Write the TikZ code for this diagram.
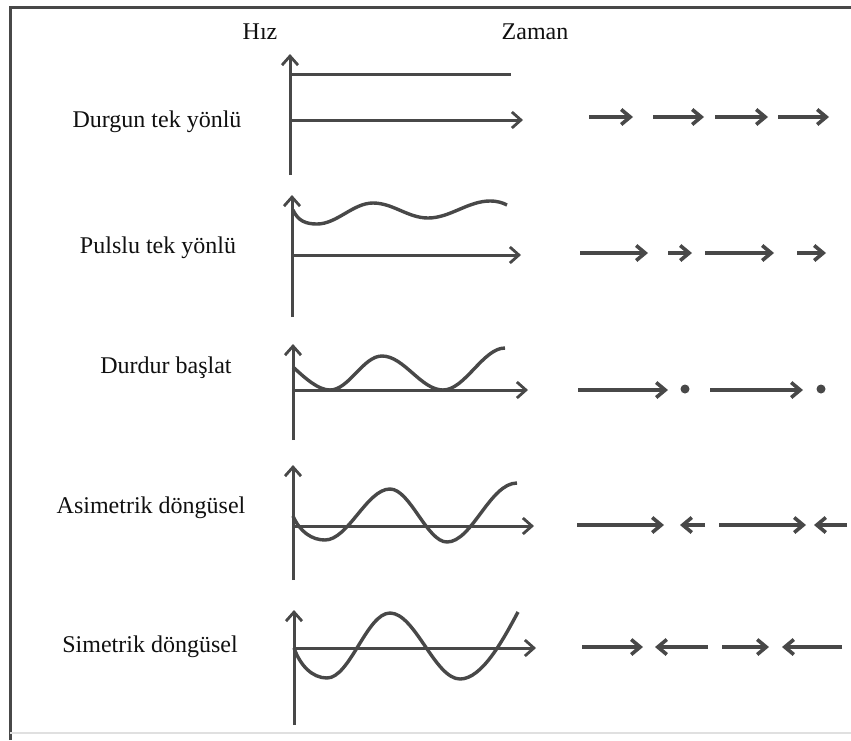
\documentclass[tikz,border=0pt]{standalone}
\usepackage{fontspec}
\setmainfont{Liberation Serif}
\usetikzlibrary{arrows.meta}
\definecolor{ink}{HTML}{484848}
\definecolor{txt}{HTML}{101010}
\begin{document}
\begin{tikzpicture}[x=1pt,y=-1pt,
  axis/.style={draw=ink,line width=3pt,-{Straight Barb[length=9pt,width=16pt,line width=2.8pt]}},
  plain/.style={draw=ink,line width=3pt},
  wave/.style={draw=ink,line width=3.4pt},
  motion/.style={draw=ink,line width=3.6pt,-{Straight Barb[length=9pt,width=15pt,line width=3.6pt]}},
  lbl/.style={font=\fontsize{24}{28}\selectfont,text=txt,anchor=base,inner sep=0pt},
  spot/.style={fill=ink,circle,inner sep=0pt,minimum size=9pt}]
\useasboundingbox (0,0) rectangle (851,740);
\fill[white] (0,0) rectangle (851,740);
% frame
\draw[ink,line width=3pt] (10,740) -- (10,7) -- (851,7);
\draw[black!12,line width=1.5pt] (10,733) -- (851,733);
% headers
\node[lbl] (hiz) at (260,39) {Hız};
\node[lbl] (zaman) at (535,39) {Zaman};
% labels
\node[lbl] (l1) at (157,127) {Durgun tek yönlü};
\node[lbl] (l2) at (158,253) {Pulslu tek yönlü};
\node[lbl] (l3) at (166,373) {Durdur başlat};
\node[lbl] (l4) at (151,513) {Asimetrik döngüsel};
\node[lbl] (l5) at (150,652) {Simetrik döngüsel};

% ---- row 1
\draw[axis] (290,175) -- (290,54);
\draw[axis] (290,120) -- (523,120);
\draw[plain] (290,74) -- (511,74);
\draw[motion] (589,117) -- (633,117);
\draw[motion] (653,117) -- (704,117);
\draw[motion] (715,117) -- (768,117);
\draw[motion] (778,117) -- (829,117);

% ---- row 2
\draw[axis] (292,317) -- (292,195);
\draw[axis] (292,255) -- (521,255);
\draw[wave] (293,210) .. controls (298,221) and (306,224) .. (317,224)
  .. controls (337,224) and (353,203) .. (373,203)
  .. controls (393,203) and (408,218) .. (428,218)
  .. controls (450,218) and (468,201) .. (490,201)
  .. controls (498,201) and (503,203) .. (507,205);
\draw[motion] (580,253) -- (648,253);
\draw[motion] (668,253) -- (692,253);
\draw[motion] (705,253) -- (774,253);
\draw[motion] (797,253) -- (826,253);

% ---- row 3
\draw[axis] (293,440) -- (293,344);
\draw[axis] (293,390) -- (528,390);
\draw[wave] (293,367) .. controls (305,378) and (318,390) .. (330,390)
  .. controls (349,390) and (363,356) .. (382,356)
  .. controls (404,356) and (421,390) .. (443,390)
  .. controls (465,390) and (483,348) .. (505,348);
\draw[motion] (578,390) -- (668,390);
\node[spot] (d1) at (685,389) {};
\draw[motion] (710,390) -- (803,390);
\node[spot] (d2) at (821,389) {};

% ---- row 4
\draw[axis] (293,580) -- (293,465);
\draw[axis] (293,526) -- (534,526);
\draw[wave] (293,516) .. controls (300,532) and (312,540) .. (325,540)
  .. controls (348,540) and (367,489) .. (390,489)
  .. controls (410,489) and (427,542) .. (447,542)
  .. controls (472,542) and (490,483) .. (517,483);
\draw[motion] (577,525) -- (664,525);
\draw[motion] (705,525) -- (680,525);
\draw[motion] (719,525) -- (806,525);
\draw[motion] (847,525) -- (814,525);

% ---- row 5
\draw[axis] (294,725) -- (294,610);
\draw[axis] (294,648) -- (536,648);
\draw[wave] (294,648) .. controls (300,665) and (312,678) .. (327,678)
  .. controls (350,678) and (367,613) .. (390,613)
  .. controls (415,613) and (435,679) .. (460,679)
  .. controls (482,679) and (503,640) .. (518,612);
\draw[motion] (582,647) -- (643,647);
\draw[motion] (708,647) -- (655,647);
\draw[motion] (722,647) -- (769,647);
\draw[motion] (842,647) -- (782,647);
\end{tikzpicture}
\end{document}
